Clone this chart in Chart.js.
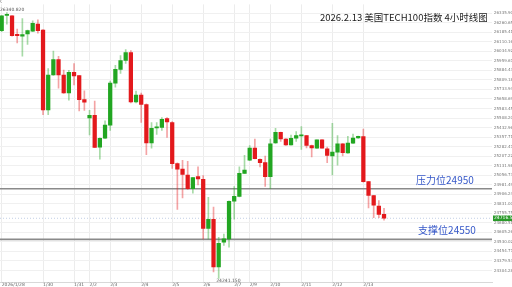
<!DOCTYPE html>
<html>
<head>
<meta charset="utf-8">
<script src="https://cdn.jsdelivr.net/npm/chart.js@4/dist/chart.umd.min.js"></script>
<style>
html,body{margin:0;padding:0;background:#fff;overflow:hidden;}
canvas{display:block;}
</style>
</head>
<body>
<canvas id="c" width="512" height="287"></canvas>
<script>
// ---- data (4-hour candles) ----
const opens  = [26197.9,26317.6,26314.5,26164.4,26154.3,26172.2,26193.2,26249.9,26203.3,25571.4,
                25848.1,25970.1,25848.1,25705.8,25869.0,25843.4,25653.7,25509.1,25529.3,25278.3,
                25348.3,25451.7,25783.5,25892.4,25962.3,26024.5,25635.9,25690.3,25614.9,25311.7,
                25429.9,25433.7,25503.7,25472.6,25148.5,25105.0,25058.4,24949.6,25045.2,25024.3,
                24635.7,24708.8,24332.6,24526.9,24553.3,24850.9,24889.7,25070.8,25175.0,25270.6,
                25182.7,25156.3,25045.2,25311.7,25394.9,25342.8,25296.2,25348.3,25366.9,25369.3,
                25291.5,25270.6,25335.1,25265.2,25208.4,25239.4,25304.0,25231.7,25309.4,25350.6,
                25361.5,25006.2,24895.1,24812.0,24747.6];
const highs  = [26318.0,26340.8,26318.0,26211.1,26294.2,26203.3,26275.6,26283.4,26206.0,25897.8,
                26037.7,25995.8,25886.9,25884.6,25939.0,25846.0,25723.7,25568.2,25641.3,25352.0,
                25485.8,25799.1,25923.5,26001.2,26047.8,26040.1,25721.4,25705.8,25620.3,25472.6,
                25472.6,25511.5,25511.5,25480.4,25153.9,25175.0,25167.2,25040.0,25122.9,25053.0,
                24881.9,24804.3,24565.8,24592.2,24855.0,24967.5,25122.9,25213.8,25291.5,25342.8,
                25185.0,25208.4,25342.8,25426.0,25398.0,25346.0,25373.9,25400.4,25441.5,25372.0,
                25294.0,25335.1,25338.0,25278.3,25467.2,25369.3,25307.0,25363.8,25381.7,25366.0,
                25420.6,25009.0,24898.0,24856.3,24794.2];
const lows   = [26190.0,26249.9,26155.0,26102.2,25995.8,26089.0,26190.0,26177.6,25534.8,25534.8,
                25845.0,25744.7,25703.0,25649.1,25770.3,25563.6,25568.2,25373.9,25274.0,25182.7,
                25345.0,25410.4,25752.4,25861.3,25939.0,25628.1,25628.1,25472.6,25218.5,25270.6,
                25379.4,25410.4,25356.0,25109.7,24786.4,24876.5,24945.0,24915.4,24980.7,24553.3,
                24553.3,24293.7,24241.2,24501.3,24488.1,24708.8,24886.0,25068.0,25172.0,25185.0,
                25122.9,24967.5,24949.6,25308.0,25322.6,25292.0,25293.0,25322.6,25260.5,25272.9,
                25200.6,25268.0,25270.6,25156.3,25058.4,25136.1,25208.4,25229.0,25306.0,25348.0,
                25002.0,24798.8,24721.2,24721.2,24701.0];
const closes = [26314.5,26319.9,26159.0,26159.0,26166.8,26197.9,26255.4,26197.9,25571.4,25848.1,
                25970.1,25848.1,25705.8,25869.0,25840.3,25653.7,25633.5,25529.3,25276.0,25348.3,
                25451.7,25783.5,25892.4,25962.3,26024.5,25635.9,25690.3,25614.9,25311.7,25426.0,
                25433.7,25498.3,25478.1,25148.5,25105.0,25063.1,24949.6,25037.5,25027.4,24635.7,
                24708.8,24332.6,24519.1,24553.3,24850.9,24889.7,25070.8,25097.3,25270.6,25187.4,
                25156.3,25045.2,25304.0,25394.9,25342.8,25296.2,25348.3,25369.3,25369.3,25291.5,
                25272.9,25335.1,25270.6,25213.8,25239.4,25304.0,25234.0,25309.4,25350.6,25363.8,
                25006.2,24897.4,24819.8,24747.6,24716.5];

// day-boundary ticks on the time axis (candle index -> label)
const dayTickIndex = [0, 8, 14, 17, 21, 27, 33, 39, 45, 48, 52, 58, 64, 70];
const dayTickLabel = ['2026/1/28','1/30','1/31','2/2','2/3','2/4','2/5','2/6','2/7','2/9','2/10','2/11','2/12','2/13'];

// price-axis tick values
const priceTicks = [24304.28,24379.53,24454.77,24530.02,24605.26,24680.51,24755.75,24831.00,24906.24,
                    24981.49,25056.73,25131.98,25207.22,25282.47,25357.71,25432.96,25508.20,25583.45,
                    25658.69,25733.94,25809.18,25884.43,25959.67,26034.92,26110.16,26185.41,26260.65,26335.90];

const resistance = 24950;
const support = 24550;
const highMark = 26340.82, highIndex = 1;
const lowMark = 24241.15, lowIndex = 42;
const titleText = '2026.2.13 美国TECH100指数 4小时线图';
const resistanceText = '压力位24950';
const supportText = '支撑位24550';

// ---- chart ----
const X_MIN = -0.33, X_MAX = 94.9;
const Y_MIN = 24213.3, Y_MAX = 26405.5;
const UP = '#22a622', DOWN = '#e3191c';
const UP_W = 'rgba(34,166,34,0.4)', DOWN_W = 'rgba(227,25,28,0.4)';
const isUp = i => closes[i] >= opens[i];

const bodies = opens.map((o, i) => ({x: i, y: [o, closes[i]]}));
const wicks = highs.map((h, i) => ({x: i, y: [lows[i], h]}));
const lastClose = closes[closes.length - 1];

const textPlugin = {
  id: 'texts',
  afterDraw(chart) {
    const ctx = chart.ctx, xs = chart.scales.x, ys = chart.scales.y;
    ctx.save();
    ctx.fillStyle = '#1a1a1a';
    ctx.font = '9.5px "Noto Sans CJK SC", "Noto Sans", sans-serif';
    ctx.textBaseline = 'middle';
    ctx.textAlign = 'left';
    ctx.fillText(titleText, 320, 17);
    ctx.fillStyle = '#3557c8';
    ctx.font = '10px "Noto Sans CJK SC", "Noto Sans", sans-serif';
    ctx.fillText(resistanceText, xs.getPixelForValue(80.2), ys.getPixelForValue(resistance) - 9);
    ctx.fillText(supportText, xs.getPixelForValue(80.6), ys.getPixelForValue(support) - 9);
    ctx.fillStyle = '#555';
    ctx.font = '4.5px "DejaVu Sans", sans-serif';
    ctx.fillText(highMark.toFixed(3), 0, ys.getPixelForValue(highMark) - 3);
    ctx.fillText(lowMark.toFixed(3), xs.getPixelForValue(lowIndex) - 2.5, ys.getPixelForValue(lowMark) + 2);
    ctx.fillStyle = '#888';
    ctx.fillText('K', -1, 1.5);
    const yp = ys.getPixelForValue(lastClose);
    ctx.fillStyle = '#2a9a2a';
    ctx.fillRect(493, yp - 2.8, 19, 5.6);
    ctx.fillStyle = '#fff';
    ctx.fillText(lastClose.toFixed(2), 494, yp);
    ctx.restore();
  }
};

new Chart(document.getElementById('c'), {
  type: 'bar',
  data: {
    datasets: [
      {
        type: 'line', order: 5,
        data: [{x: X_MIN, y: resistance}, {x: X_MAX, y: resistance}],
        borderColor: '#8a8a8a', borderWidth: 1.6, pointRadius: 0
      },
      {
        type: 'line', order: 5,
        data: [{x: X_MIN, y: support}, {x: X_MAX, y: support}],
        borderColor: '#8a8a8a', borderWidth: 1.6, pointRadius: 0
      },
      {
        type: 'line', order: 6,
        data: [{x: X_MIN, y: lastClose}, {x: X_MAX, y: lastClose}],
        borderColor: '#c2cfe6', borderWidth: 1, borderDash: [1, 2], pointRadius: 0
      },
      {
        order: 2, grouped: false,
        data: wicks,
        barThickness: 1,
        backgroundColor: ctx => isUp(ctx.dataIndex) ? UP_W : DOWN_W,
        borderWidth: 0
      },
      {
        order: 1, grouped: false,
        data: bodies,
        barThickness: 3.6,
        minBarLength: 1.2,
        backgroundColor: ctx => isUp(ctx.dataIndex) ? UP : DOWN,
        borderWidth: 0
      }
    ]
  },
  options: {
    responsive: false,
    devicePixelRatio: 1,
    animation: false,
    layout: {padding: 0},
    plugins: {legend: {display: false}, tooltip: {enabled: false}, title: {display: false}},
    scales: {
      x: {
        type: 'linear', min: X_MIN, max: X_MAX, offset: false,
        afterBuildTicks: s => { s.ticks = dayTickIndex.map(v => ({value: v})); },
        afterFit: s => { s.height = 5; },
        ticks: {
          autoSkip: false, maxRotation: 0, minRotation: 0, align: 'start', padding: 0.5,
          color: '#666', font: {size: 4.5, family: 'DejaVu Sans'},
          callback: v => dayTickLabel[dayTickIndex.indexOf(v)]
        },
        grid: {color: '#ececec', drawTicks: false, offset: false},
        border: {display: true, color: '#d8d8d8'}
      },
      y: {
        type: 'linear', position: 'right', min: Y_MIN, max: Y_MAX,
        afterBuildTicks: s => { s.ticks = priceTicks.map(v => ({value: v})); },
        afterFit: s => { s.width = 20; },
        ticks: {
          padding: 2, color: '#777', font: {size: 4, family: 'DejaVu Sans'},
          callback: v => v.toFixed(2)
        },
        grid: {color: '#f0f0f0', drawTicks: false},
        border: {display: false}
      }
    }
  },
  plugins: [textPlugin]
});
</script>
</body>
</html>
